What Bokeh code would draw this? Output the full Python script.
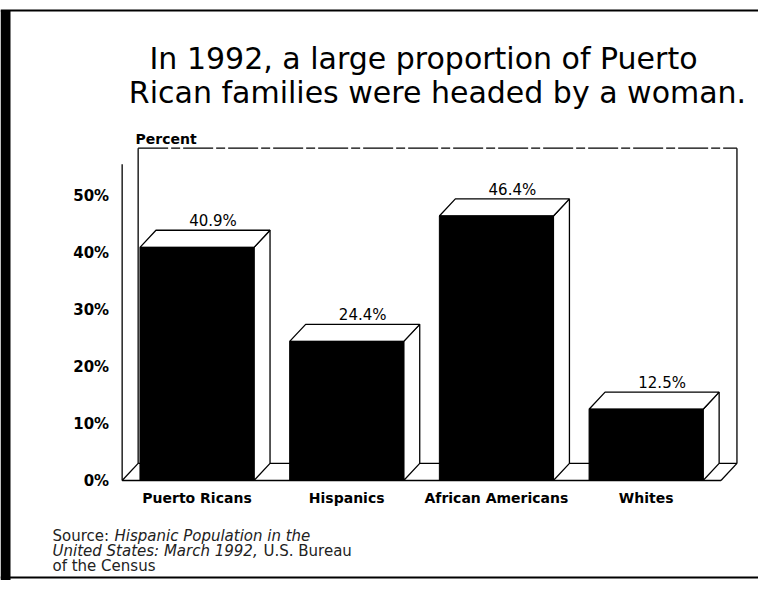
from bokeh.plotting import figure
from bokeh.models import Range1d, FixedTicker, PrintfTickFormatter, Label, ColumnDataSource
from bokeh.embed import file_html
from bokeh.resources import INLINE
from bokeh.core.properties import value

# ---------------- data ----------------
categories = ["Puerto Ricans", "Hispanics", "African Americans", "Whites"]
percent = [40.9, 24.4, 46.4, 12.5]
percent_labels = ["40.9%", "24.4%", "46.4%", "12.5%"]
y_ticks = [0, 10, 20, 30, 40, 50]

# ---------------- layout helpers ----------------
W, H = 758, 580
X0_PX, X_UNIT = 196.5, 149.7      # px of first category centre, px per category
Y0_PX, Y_UNIT = 480.0, 5.7        # px of 0 %, px per percent


def xd(px):
    return (px - X0_PX) / X_UNIT


def yd(px):
    return (Y0_PX - px) / Y_UNIT


BAR_W = 0.762
DEPTH_X = 16 / X_UNIT
DEPTH_Y = 3.0
WALL_TOP = 55.3
AXIS_TOP = 55.5
LABEL_GAP = 1.6
FL, FR = -0.5, len(categories) - 0.5

p = figure(width=W, height=H, title=None,
           x_range=Range1d(xd(0), xd(W)), y_range=Range1d(yd(H), yd(0)),
           output_backend="svg", toolbar_location=None,
           min_border_left=0, min_border_right=0, min_border_top=0, min_border_bottom=0)
p.xgrid.visible = False
p.ygrid.visible = False
p.outline_line_color = None
p.background_fill_color = "white"
p.border_fill_color = "white"

# axes (drawn inside the frame at the front plane)
p.xaxis.fixed_location = 0
p.yaxis.fixed_location = FL
p.xaxis.ticker = FixedTicker(ticks=list(range(len(categories))))
p.xaxis.major_label_overrides = {i: c for i, c in enumerate(categories)}
p.yaxis.ticker = FixedTicker(ticks=y_ticks)
p.yaxis.formatter = PrintfTickFormatter(format="%d%%")
for ax in (p.xaxis, p.yaxis):
    ax.axis_line_color = None
    ax.major_tick_line_color = None
    ax.minor_tick_line_color = None
    ax.major_label_text_font = "DejaVu Sans"
    ax.major_label_text_font_style = "bold"
    ax.major_label_text_color = "black"
p.xaxis.major_label_text_font_size = "14px"
p.xaxis.major_label_standoff = 3
p.yaxis.major_label_text_font_size = "15px"
p.yaxis.major_label_standoff = 7

LW = 1.3
# page frame (thick left edge, top and bottom rules)
p.quad(left=[xd(0)], right=[xd(10)], bottom=[yd(H)], top=[yd(10)], fill_color="black", line_color=None)
p.segment(x0=[xd(0), xd(0)], y0=[yd(10), yd(577)], x1=[xd(W), xd(W)], y1=[yd(10), yd(577)],
          line_color="black", line_width=2)

# back wall
p.segment(x0=[FL + DEPTH_X, FR + DEPTH_X], y0=[DEPTH_Y, DEPTH_Y],
          x1=[FL + DEPTH_X, FR + DEPTH_X], y1=[WALL_TOP + DEPTH_Y, WALL_TOP + DEPTH_Y],
          line_color="black", line_width=LW)
p.line(x=[FL + DEPTH_X, FR + DEPTH_X], y=[WALL_TOP + DEPTH_Y, WALL_TOP + DEPTH_Y],
       line_color="black", line_width=LW, line_dash="30 3 9 3")
# floor
p.segment(x0=[FL + DEPTH_X, FL, FR, FL], y0=[DEPTH_Y, 0, 0, 0],
          x1=[FR + DEPTH_X, FL + DEPTH_X, FR + DEPTH_X, FR], y1=[DEPTH_Y, DEPTH_Y, DEPTH_Y, 0],
          line_color="black", line_width=LW)
# front y axis line
p.segment(x0=[FL], y0=[0], x1=[FL], y1=[AXIS_TOP], line_color="black", line_width=LW)

# bars
idx = list(range(len(categories)))
side_xs, side_ys, top_xs, top_ys = [], [], [], []
for i, v in zip(idx, percent):
    l, r = i - BAR_W / 2, i + BAR_W / 2
    side_xs.append([r, r + DEPTH_X, r + DEPTH_X, r])
    side_ys.append([0, DEPTH_Y, v + DEPTH_Y, v])
    top_xs.append([l, l + DEPTH_X, r + DEPTH_X, r])
    top_ys.append([v, v + DEPTH_Y, v + DEPTH_Y, v])
p.patches(xs=side_xs, ys=side_ys, fill_color="white", line_color="black", line_width=LW)
p.patches(xs=top_xs, ys=top_ys, fill_color="white", line_color="black", line_width=LW)
src = ColumnDataSource(dict(x=idx, top=percent, lab=percent_labels,
                            lx=[i + DEPTH_X for i in idx],
                            ly=[v + DEPTH_Y + LABEL_GAP for v in percent]))
p.vbar(x="x", top="top", bottom=0, width=BAR_W, source=src,
       fill_color="black", line_color="black", line_width=1)
p.text(x="lx", y="ly", text="lab", source=src, text_align="center",
       text_baseline="alphabetic", text_font=value("DejaVu Sans"),
       text_font_size="15px", text_color="black")


# texts
def lab(px, py, text, size, style="normal", align="left", color="black"):
    p.add_layout(Label(x=xd(px), y=yd(py), text=text, text_align=align,
                       text_baseline="alphabetic", text_font="DejaVu Sans",
                       text_font_size=size, text_font_style=style, text_color=color))


lab(423, 58, "In 1992, a large proportion of Puerto", "30px", align="center")
lab(437, 92, "Rican families were headed by a woman.", "30px", align="center")
lab(135, 138, "Percent", "14px", style="bold")
lab(52, 535, "Source:", "15px", color="#222")
lab(114, 535, "Hispanic Population in the", "15px", style="italic", color="#222")
lab(52, 550, "United States: March 1992,", "15px", style="italic", color="#222")
lab(263, 550, "U.S. Bureau", "15px", color="#222")
lab(52, 565, "of the Census", "15px", color="#222")

open("out.html", "w").write(file_html(p, INLINE))
